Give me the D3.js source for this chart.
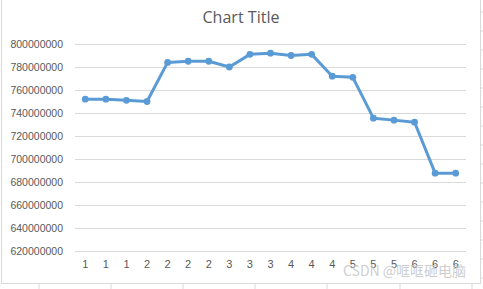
<!DOCTYPE html>
<html><head><meta charset="utf-8">
<script src="https://cdn.jsdelivr.net/npm/d3@7"></script>
<style>html,body{margin:0;padding:0;background:#fff;overflow:hidden}</style>
</head><body>
<svg id="c" width="483" height="289"></svg>
<script>
const categories = ["1","1","1","2","2","2","2","3","3","3","4","4","4","5","5","5","6","6","6"];
const values = [752000000,752000000,751000000,750000000,784000000,785000000,785000000,780000000,791000000,792000000,790000000,791000000,772000000,771000000,735500000,733800000,732000000,687700000,687700000];
const yTicks = [620000000,640000000,660000000,680000000,700000000,720000000,740000000,760000000,780000000,800000000];
const title = "Chart Title";

const svg = d3.select("#c");
const W = 483, H = 289;
const m = {left: 75, right: 466, top: 44, bottom: 251};

svg.append("rect").attr("x",0).attr("y",0).attr("width",W).attr("height",H).attr("fill","#fff");
const sheet = svg.append("g");
[39,111,183,255,327,400,472].forEach(x=>sheet.append("line").attr("x1",x).attr("x2",x).attr("y1",283).attr("y2",289).attr("stroke","#d9d9d9"));
[12,31,50,69,88,107,126,145,164,183,202,221,240,259,278].forEach(y=>sheet.append("line").attr("x1",481).attr("x2",483).attr("y1",y).attr("y2",y).attr("stroke","#d9d9d9"));
svg.append("rect").attr("x",1.5).attr("y",-2).attr("width",479).attr("height",285.5).attr("fill","#fff").attr("stroke","#d9d9d9");

const x = d3.scaleBand().domain(d3.range(categories.length)).range([m.left, m.right]);
const y = d3.scaleLinear().domain([620000000, 800000000]).range([m.bottom, m.top]);

svg.append("g").selectAll("line").data(yTicks).join("line")
  .attr("x1", m.left).attr("x2", m.right)
  .attr("y1", d=>Math.round(y(d))+0.5).attr("y2", d=>Math.round(y(d))+0.5)
  .attr("stroke","#d9d9d9").attr("stroke-width",1);

const yAxis = d3.axisLeft(y).tickValues(yTicks).tickSize(0).tickPadding(0).tickFormat(d=>String(d));
const ya = svg.append("g").attr("transform",`translate(${m.left-12},0)`).call(yAxis);
ya.select(".domain").remove();
ya.selectAll("text").attr("fill","#595959").style("font-family","'Liberation Sans', Arial, sans-serif").style("font-size","10.5px");

const xAxis = d3.axisBottom(x).tickSize(0).tickPadding(0).tickFormat(i=>categories[i]);
const xa = svg.append("g").attr("transform",`translate(0,${m.bottom+9})`).call(xAxis);
xa.select(".domain").remove();
xa.selectAll("text").attr("fill","#595959").style("font-family","'Liberation Sans', Arial, sans-serif").style("font-size","11px");

const cx = i => x(i) + x.bandwidth()/2;
svg.append("path").datum(values)
  .attr("d", d3.line().x((d,i)=>cx(i)).y(d=>y(d)))
  .attr("fill","none").attr("stroke","#5B9BD5").attr("stroke-width",3).attr("stroke-linejoin","round");
svg.append("g").selectAll("circle").data(values).join("circle")
  .attr("cx",(d,i)=>cx(i)).attr("cy",d=>y(d)).attr("r",3.4).attr("fill","#5B9BD5");

svg.append("text").attr("x",241).attr("y",23).attr("text-anchor","middle")
  .attr("fill","#595959").style("font-family","'Open Sans', 'Liberation Sans', sans-serif").style("font-size","16px")
  .attr("textLength",77).attr("lengthAdjust","spacingAndGlyphs")
  .text(title);

svg.append("text").attr("x",343).attr("y",276).attr("fill","#c8c8c8").attr("fill-opacity",0.9)
  .style("font-family","'Noto Sans CJK SC', sans-serif").style("font-size","14px")
  .text("CSDN @哐哐砸电脑");
</script>
</body></html>
